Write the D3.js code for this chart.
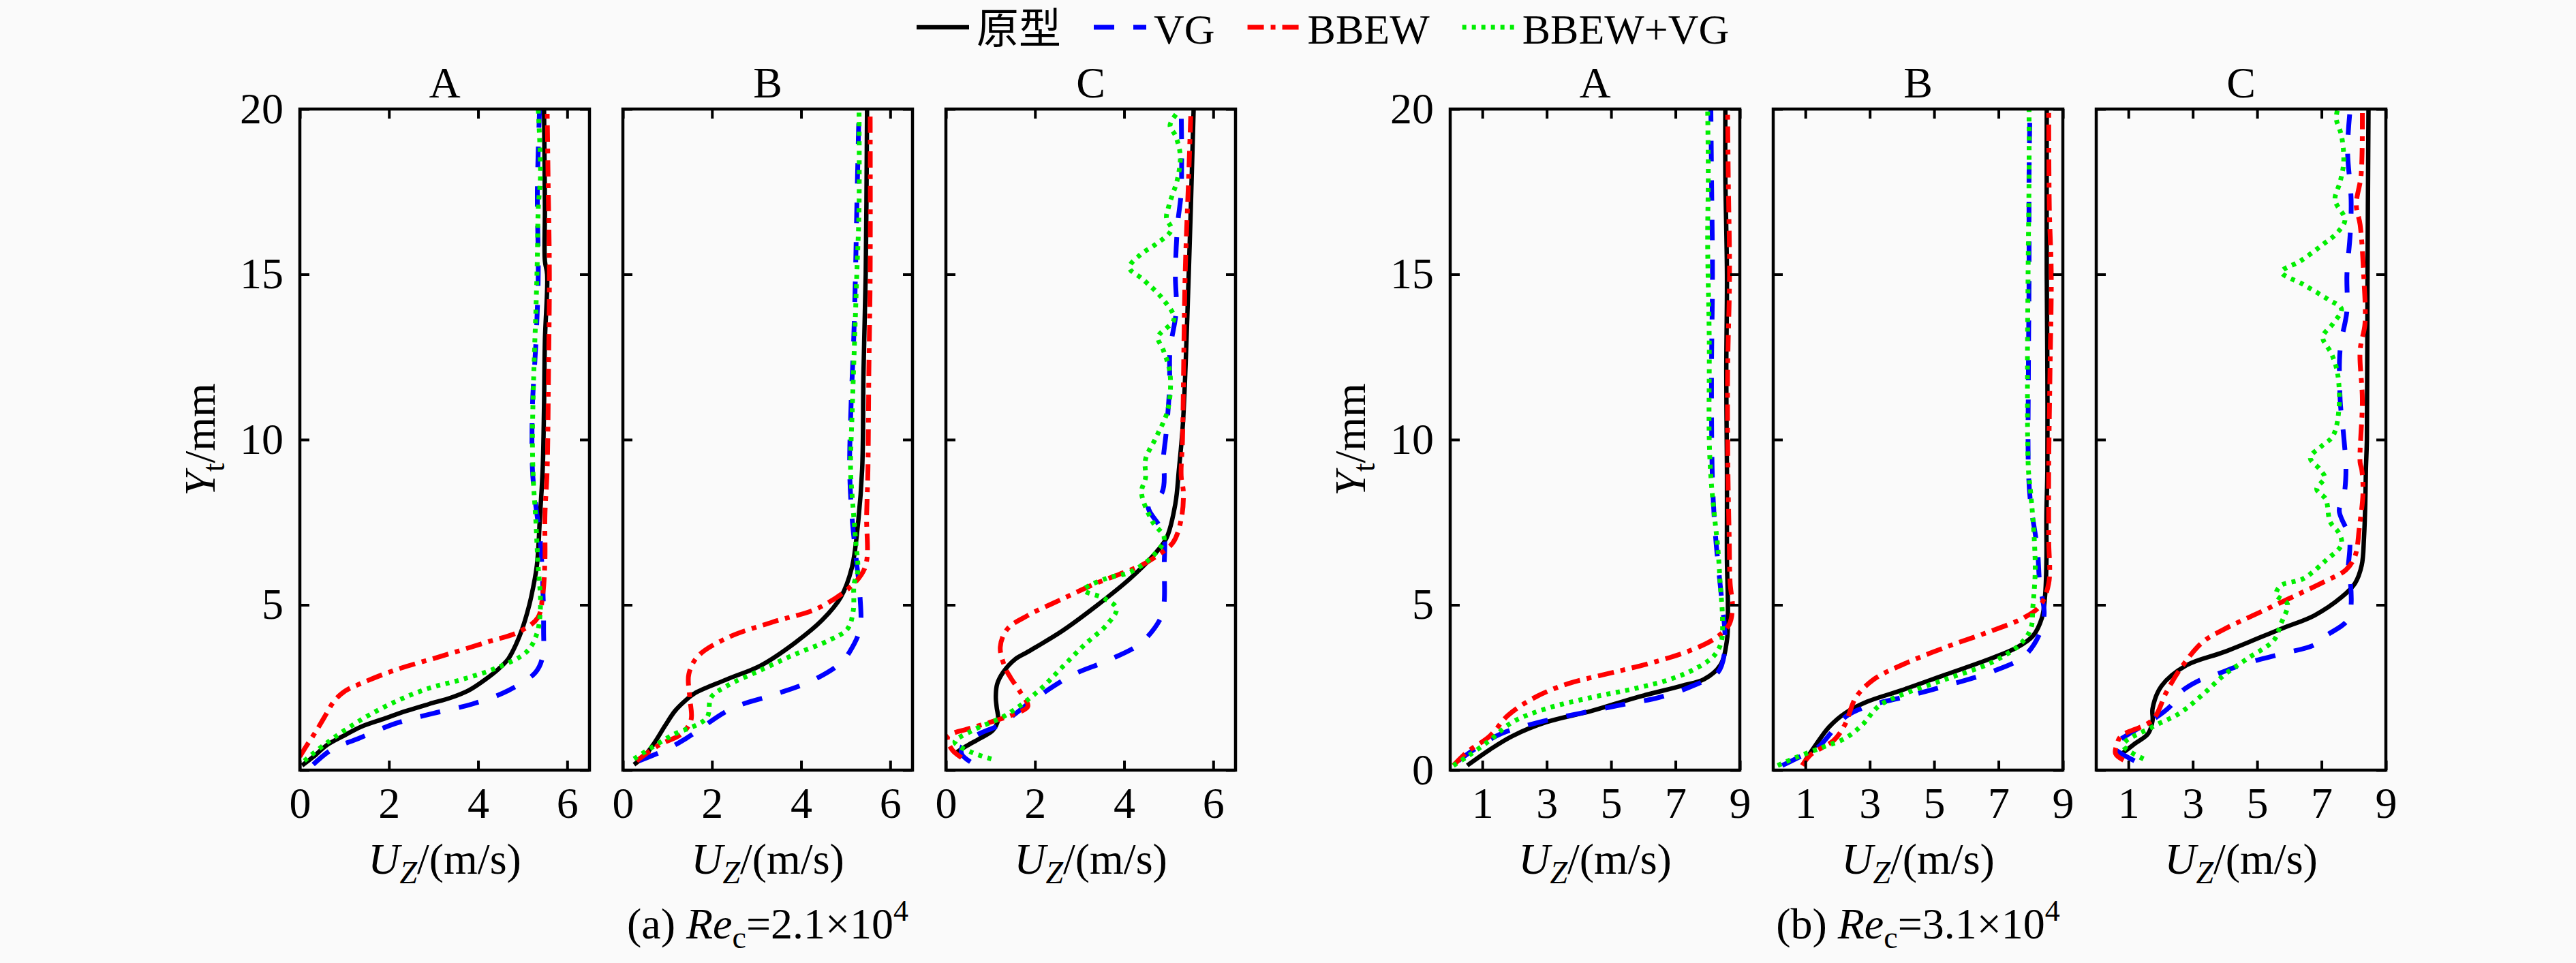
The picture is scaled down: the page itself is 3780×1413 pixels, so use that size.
<!DOCTYPE html>
<html>
<head>
<meta charset="utf-8">
<script src="https://cdn.jsdelivr.net/npm/d3@7"></script>
<style>
  body { margin: 0; background: #fafafa; }
  svg text { font-family: 'Liberation Serif', 'DejaVu Serif', serif; }
  svg text.cjk { font-family: 'Liberation Serif', 'Noto Sans CJK SC', serif; }
</style>
</head>
<body>
<div id="chart"></div>
<script>
// ---- data: [U_Z (m/s), Y_t (mm)] ----
// (a) Re_c = 2.1e4
const a_A_proto = [[0.05,0.14],[0.3,0.4],[0.61,0.76],[1.0,1.05],[1.37,1.31],[1.9,1.56],[2.39,1.79],[2.9,2.0],[3.41,2.2],[3.8,2.42],[4.17,2.75],[4.45,3.05],[4.68,3.37],[4.85,3.8],[4.99,4.27],[5.1,4.75],[5.19,5.23],[5.32,6.2],[5.39,7.7],[5.45,9.1],[5.48,11],[5.5,13],[5.55,15],[5.5,15.4],[5.5,17],[5.48,20]]
const a_A_vg = [[0.3,0.17],[0.71,0.62],[1.32,0.96],[2.14,1.41],[3.0,1.72],[3.87,2.0],[4.68,2.41],[5.29,2.96],[5.45,3.44],[5.47,4.27],[5.45,5.65],[5.39,7.02],[5.29,8.06],[5.22,9.1],[5.22,11],[5.3,13],[5.35,15],[5.33,17.5],[5.38,20]]
const a_A_bbew = [[0,0.41],[0.18,0.8],[0.36,1.17],[0.55,1.6],[0.76,2.07],[1.0,2.38],[1.37,2.62],[2.14,3.03],[3.16,3.44],[4.17,3.86],[4.94,4.2],[5.34,4.61],[5.45,5.3],[5.5,6.34],[5.5,7.7],[5.55,9.1],[5.58,12],[5.6,15],[5.57,18],[5.55,20]]
const a_A_both = [[0.1,0.28],[0.61,0.83],[1.37,1.52],[2.14,2.07],[2.9,2.48],[3.66,2.75],[4.43,3.1],[5.09,3.58],[5.32,4.13],[5.4,4.96],[5.34,6.34],[5.29,7.7],[5.24,8.75],[5.22,10],[5.25,12],[5.3,14],[5.33,15.5],[5.35,17],[5.4,18],[5.35,20]]

const a_B_proto = [[0.25,0.17],[0.5,0.45],[0.71,0.83],[0.95,1.35],[1.17,1.79],[1.4,2.1],[1.63,2.34],[2.34,2.75],[3.1,3.17],[3.87,3.86],[4.48,4.55],[4.89,5.23],[5.14,6.13],[5.27,7.37],[5.37,9.1],[5.4,12],[5.45,15],[5.48,20]]
const a_B_vg = [[0.36,0.28],[0.97,0.62],[1.42,0.96],[2.44,1.86],[3.36,2.27],[4.22,2.69],[4.89,3.24],[5.09,3.58],[5.32,4.27],[5.32,5.3],[5.24,6.34],[5.14,7.7],[5.09,9.1],[5.12,11],[5.18,13],[5.22,15],[5.25,17],[5.3,20]]
const a_B_bbew = [[0.31,0.28],[0.81,0.76],[1.32,1.1],[1.53,1.52],[1.5,2.2],[1.48,2.9],[1.68,3.44],[2.34,4.0],[3.36,4.48],[4.38,4.9],[5.19,5.65],[5.45,6.2],[5.47,7.7],[5.5,9.1],[5.52,12],[5.55,15],[5.55,20]]
const a_B_both = [[0.25,0.34],[1.07,1.03],[1.88,1.58],[1.98,2.2],[2.34,2.55],[3.1,3.03],[3.87,3.51],[4.63,3.93],[5.04,4.27],[5.17,4.82],[5.19,5.65],[5.27,6.0],[5.22,7.02],[5.14,8.4],[5.11,9.1],[5.15,11],[5.2,13],[5.25,15],[5.3,17],[5.3,20]]

const a_C_proto = [[0.2,0.5],[0.45,0.72],[0.75,0.95],[1.05,1.2],[1.17,1.52],[1.14,1.9],[1.12,2.2],[1.15,2.6],[1.28,2.95],[1.55,3.35],[1.84,3.58],[2.6,4.2],[3.37,4.96],[4.13,5.79],[4.64,6.47],[4.95,7.02],[5.15,8.06],[5.23,9.1],[5.32,10.5],[5.45,15],[5.56,20]]
const a_C_vg = [[0.55,0.25],[0.35,0.5],[0.4,0.8],[0.75,1.1],[1.22,1.38],[2.04,2.2],[2.86,2.89],[3.62,3.31],[4.39,3.86],[4.85,4.68],[4.9,5.1],[4.9,6.2],[4.9,7.02],[4.8,7.37],[4.54,7.99],[4.85,8.4],[4.9,8.95],[4.87,9.2],[4.95,10.3],[5.02,11.6],[5.03,12.7],[5.17,13.9],[5.15,15],[5.2,16.5],[5.28,17.5],[5.28,20]]
const a_C_bbew = [[0.35,0.38],[0.15,0.6],[0.05,0.85],[0.05,1.03],[0.5,1.25],[1.0,1.45],[1.58,1.72],[1.84,1.93],[1.68,2.34],[1.45,2.8],[1.33,3.1],[1.22,3.72],[1.38,4.27],[1.84,4.68],[2.6,5.17],[3.37,5.65],[3.88,5.92],[4.39,6.2],[4.8,6.54],[5.1,6.89],[5.28,7.58],[5.33,8.4],[5.28,8.9],[5.31,10],[5.37,15],[5.45,18],[5.5,20]]
const a_C_both = [[1.02,0.34],[0.56,0.55],[0.2,0.85],[0.6,1.2],[1.33,1.65],[2.09,2.41],[2.6,3.1],[3.11,3.79],[3.62,4.41],[3.83,4.89],[3.55,5.2],[3.1,5.45],[3.6,5.8],[4.13,5.99],[4.64,6.47],[4.9,7.02],[4.64,7.51],[4.39,8.4],[4.48,8.84],[4.48,9.4],[4.73,10.1],[4.98,10.9],[5.03,12.0],[4.87,12.74],[4.76,13.1],[5.12,13.65],[4.87,14.25],[4.42,14.85],[4.12,15.2],[4.37,15.6],[4.7,15.9],[5.06,16.35],[4.95,16.7],[5.01,17.1],[5.2,17.9],[5.26,18.6],[5.15,19.2],[5.03,19.5],[5.2,19.9]]

// (b) Re_c = 3.1e4
const b_A_proto = [[0.53,0.14],[1.23,0.62],[1.93,1.03],[2.98,1.45],[4.39,1.79],[5.79,2.2],[7.19,2.55],[7.89,2.75],[8.39,3.17],[8.6,3.93],[8.63,4.96],[8.6,6.34],[8.6,7.71],[8.6,9.1],[8.58,12],[8.6,15],[8.55,18],[8.55,20]]
const b_A_vg = [[0.25,0.28],[0.74,0.62],[1.58,1.1],[2.77,1.45],[4.04,1.72],[5.44,2.0],[6.49,2.2],[7.54,2.55],[8.32,2.96],[8.53,3.58],[8.53,4.27],[8.46,4.96],[8.35,5.99],[8.25,7.02],[8.18,8.06],[8.14,9.1],[8.12,12],[8.15,15],[8.12,18],[8.1,20]]
const b_A_bbew = [[0.1,0.14],[0.53,0.55],[1.23,1.03],[1.79,1.65],[2.63,2.2],[3.68,2.62],[5.09,2.96],[6.49,3.31],[7.54,3.65],[8.25,4.0],[8.67,4.41],[8.77,4.96],[8.7,5.65],[8.67,7.02],[8.63,9.1],[8.62,12],[8.68,15],[8.64,18],[8.62,20]]
const b_A_both = [[0.1,0.14],[0.53,0.41],[1.23,0.9],[1.93,1.45],[2.98,1.86],[4.39,2.2],[5.79,2.48],[6.84,2.75],[7.54,3.03],[8.18,3.44],[8.42,3.86],[8.46,4.61],[8.39,5.65],[8.32,6.68],[8.21,7.71],[8.11,8.75],[8.05,10],[8.05,13],[8.0,16],[8.02,18],[8.0,20]]

const b_B_proto = [[1.0,0.3],[1.32,0.76],[1.74,1.31],[2.23,1.72],[2.92,2.07],[3.97,2.41],[5.36,2.89],[6.75,3.37],[7.59,3.72],[8.07,4.06],[8.35,4.61],[8.45,5.3],[8.49,6.34],[8.49,7.71],[8.52,9.1],[8.52,12],[8.5,15],[8.5,20]]
const b_B_vg = [[0.28,0.14],[0.84,0.41],[1.39,0.69],[1.95,1.31],[2.3,1.65],[2.92,1.93],[4.31,2.27],[5.36,2.55],[6.75,2.96],[7.79,3.44],[8.28,4.13],[8.42,4.75],[8.28,5.65],[8.21,6.68],[8.0,8.06],[7.93,9.1],[7.93,12],[7.95,15],[7.95,18],[7.98,20]]
const b_B_bbew = [[0.9,0.14],[1.18,0.48],[1.88,0.9],[2.23,1.38],[2.57,2.2],[3.13,2.75],[3.97,3.17],[5.36,3.72],[6.75,4.2],[7.79,4.61],[8.28,4.96],[8.56,5.65],[8.56,7.02],[8.56,9.1],[8.6,12],[8.64,15],[8.58,17],[8.56,20]]
const b_B_both = [[0.14,0.14],[0.7,0.38],[1.53,0.69],[2.23,0.96],[2.78,1.38],[3.27,1.93],[3.97,2.27],[5.36,2.75],[6.75,3.24],[7.65,3.79],[8.0,4.27],[8.07,4.96],[8.14,5.99],[8.11,7.02],[8.0,8.4],[7.93,9.1],[7.9,12],[7.92,15],[7.95,18],[7.95,20]]

const b_C_proto = [[0.8,0.5],[1.2,0.8],[1.61,1.1],[1.75,1.5],[1.75,1.86],[2.03,2.55],[2.8,3.17],[3.99,3.58],[5.73,4.27],[6.78,4.68],[7.62,5.23],[8.04,5.65],[8.25,6.2],[8.32,7.02],[8.36,8.06],[8.38,9.1],[8.41,10],[8.43,15],[8.46,20]]
const b_C_vg = [[1.19,0.28],[0.7,0.55],[0.49,0.72],[0.91,1.03],[1.75,1.52],[2.3,1.93],[2.6,2.34],[3.15,2.69],[3.71,2.89],[4.69,3.24],[5.73,3.51],[6.78,3.79],[7.13,4.06],[7.76,4.48],[7.9,4.82],[7.9,5.65],[7.83,5.99],[7.87,7.02],[7.55,7.85],[7.69,8.26],[7.76,9.1],[7.69,10.1],[7.58,11.2],[7.58,12.74],[7.79,13.9],[7.79,15],[7.89,16.2],[7.92,17.25],[7.81,18.75],[7.89,20]]
const b_C_bbew = [[0.85,0.3],[0.6,0.5],[0.65,0.8],[0.77,1.03],[1.75,1.52],[2.17,2.34],[2.59,3.03],[3.29,3.86],[3.99,4.27],[5.03,4.75],[6.08,5.23],[7.13,5.72],[7.76,6.06],[8.04,6.47],[8.18,7.37],[8.29,8.4],[8.25,9.1],[8.2,9.3],[8.27,11.2],[8.2,12.7],[8.35,13.5],[8.31,15],[8.2,16.5],[8.08,17.1],[8.23,18],[8.27,20]]
const b_C_both = [[1.47,0.34],[0.84,0.76],[1.75,1.31],[2.59,1.72],[3.29,2.27],[3.99,2.89],[4.69,3.37],[5.52,3.93],[5.73,4.41],[5.94,5.03],[5.59,5.3],[5.73,5.58],[6.43,5.79],[7.13,6.34],[7.62,6.82],[7.55,7.16],[7.27,7.51],[7.13,8.2],[6.85,8.5],[7.1,8.85],[6.95,9.1],[6.65,9.45],[7.0,9.8],[7.35,10.1],[7.54,10.9],[7.5,12.0],[7.31,12.6],[7.04,13.1],[7.35,13.5],[7.62,13.95],[7.19,14.25],[6.42,14.7],[5.76,15.07],[6.34,15.4],[7.04,15.9],[7.5,16.27],[7.73,16.65],[7.42,17.25],[7.58,17.8],[7.69,18.4],[7.62,19.2],[7.46,19.7],[7.5,20]]

// ---- categories and tick labels ----
const seriesNames = ['原型', 'VG', 'BBEW', 'BBEW+VG']
const panelNames = ['A', 'B', 'C']
const groupTags = ['(a)', '(b)']
const groupRe = ['2.1', '3.1']
const xMaxes = [6.5, 9]
const xTickValues = [[0, 2, 4, 6], [1, 3, 5, 7, 9]]
const yTickValues = [0, 5, 10, 15, 20]
const yTickLabels = [[5, 10, 15, 20], [0, 5, 10, 15, 20]]
const curves = [
    [[a_A_proto, a_A_vg, a_A_bbew, a_A_both], [a_B_proto, a_B_vg, a_B_bbew, a_B_both], [a_C_proto, a_C_vg, a_C_bbew, a_C_both]],
    [[b_A_proto, b_A_vg, b_A_bbew, b_A_both], [b_B_proto, b_B_vg, b_B_bbew, b_B_both], [b_C_proto, b_C_vg, b_C_bbew, b_C_both]]
]

// ---- styles ----
const seriesStyle = [
    { color: '#000000', width: 6.5, dash: null },
    { color: '#0000ff', width: 7, dash: '30,28' },
    { color: '#ff0000', width: 7, dash: '24,10,7,10' },
    { color: '#00ee00', width: 7, dash: '6,8' }
]

// ---- layout ----
const W = 3780, H = 1413
const groupLeft = [440, 2128]
const panelStep = 474, panelW = 425
const plotTop = 160, plotBottom = 1130
const fontSize = 64

const svg = d3.select('#chart')
    .append('svg')
    .attr('width', W)
    .attr('height', H)
    .style('background', '#fafafa')

const y = d3.scaleLinear().domain([0, 20]).range([plotBottom, plotTop])

groupLeft.forEach(function (gLeft, g) {
    panelNames.forEach(function (pName, p) {
        const left = gLeft + p * panelStep
        const x = d3.scaleLinear().domain([0, xMaxes[g]]).range([left, left + panelW])
        const panel = svg.append('g')

        const clipId = 'clip-' + g + '-' + p
        svg.append('clipPath').attr('id', clipId)
            .append('rect')
            .attr('x', left).attr('y', plotTop)
            .attr('width', panelW).attr('height', plotBottom - plotTop)

        // curves
        const line = d3.line()
            .x(d => x(d[0]))
            .y(d => y(d[1]))
            .curve(d3.curveCatmullRom.alpha(0.5))

        const lines = panel.append('g').attr('clip-path', 'url(#' + clipId + ')')
        curves[g][p].forEach(function (data, s) {
            lines.append('path')
                .datum(data)
                .attr('d', line)
                .attr('fill', 'none')
                .attr('stroke', seriesStyle[s].color)
                .attr('stroke-width', seriesStyle[s].width)
                .attr('stroke-dasharray', seriesStyle[s].dash)
                .attr('stroke-linejoin', 'round')
        })

        // axes, ticks pointing inward
        const bottomAxis = panel.append('g')
            .attr('transform', 'translate(0,' + plotBottom + ')')
            .call(d3.axisBottom(x).tickValues(xTickValues[g]).tickSize(-14).tickPadding(25).tickFormat(d3.format('d')))
        const topAxis = panel.append('g')
            .attr('transform', 'translate(0,' + plotTop + ')')
            .call(d3.axisTop(x).tickValues(xTickValues[g]).tickSize(-14).tickFormat(''))
        const leftAxis = panel.append('g')
            .attr('transform', 'translate(' + left + ',0)')
            .call(d3.axisLeft(y).tickValues(yTickValues).tickSize(-14).tickPadding(24)
                .tickFormat(d => (p === 0 && yTickLabels[g].includes(d)) ? d : ''))
        const rightAxis = panel.append('g')
            .attr('transform', 'translate(' + (left + panelW) + ',0)')
            .call(d3.axisRight(y).tickValues(yTickValues).tickSize(-14).tickFormat(''))

        ;[bottomAxis, topAxis, leftAxis, rightAxis].forEach(function (ax) {
            ax.attr('font-family', null).attr('font-size', null)
            ax.select('.domain').remove()
            ax.selectAll('.tick line').attr('stroke', '#000').attr('stroke-width', 4)
            ax.selectAll('.tick text')
                .attr('fill', '#000')
                .style('font-size', fontSize + 'px')
        })

        // frame
        panel.append('rect')
            .attr('x', left).attr('y', plotTop)
            .attr('width', panelW).attr('height', plotBottom - plotTop)
            .attr('fill', 'none')
            .attr('stroke', '#000')
            .attr('stroke-width', 4.5)

        // panel title
        panel.append('text')
            .attr('x', left + panelW / 2)
            .attr('y', 143)
            .attr('text-anchor', 'middle')
            .style('font-size', fontSize + 'px')
            .text(pName)

        // x label U_Z/(m/s)
        const xl = panel.append('text')
            .attr('x', left + panelW / 2)
            .attr('y', 1282)
            .attr('text-anchor', 'middle')
            .style('font-size', fontSize + 'px')
        xl.append('tspan').style('font-style', 'italic').text('U')
        xl.append('tspan').style('font-style', 'italic').style('font-size', '46px').attr('dy', 14).text('Z')
        xl.append('tspan').attr('dy', -14).text('/(m/s)')
    })

    // y label Y_t/mm
    const yl = svg.append('text')
        .attr('transform', 'translate(' + (gLeft - 125) + ',' + ((plotTop + plotBottom) / 2) + ') rotate(-90)')
        .attr('text-anchor', 'middle')
        .style('font-size', fontSize + 'px')
    yl.append('tspan').style('font-style', 'italic').text('Y')
    yl.append('tspan').style('font-size', '46px').attr('dy', 14).text('t')
    yl.append('tspan').attr('dy', -14).text('/mm')

    // caption under the middle panel
    const cap = svg.append('text')
        .attr('x', gLeft + panelStep + panelW / 2)
        .attr('y', 1377)
        .attr('text-anchor', 'middle')
        .style('font-size', fontSize + 'px')
    cap.append('tspan').text(groupTags[g] + ' ')
    cap.append('tspan').style('font-style', 'italic').text('Re')
    cap.append('tspan').style('font-size', '46px').attr('dy', 14).text('c')
    cap.append('tspan').attr('dy', -14).text('=' + groupRe[g] + '×10')
    cap.append('tspan').style('font-size', '44px').attr('dy', -26).text('4')
})

// legend across the top
const legend = svg.append('g')
let lx = 1345
seriesNames.forEach(function (name, s) {
    legend.append('line')
        .attr('x1', lx).attr('x2', lx + 77)
        .attr('y1', 40).attr('y2', 40)
        .attr('stroke', seriesStyle[s].color)
        .attr('stroke-width', seriesStyle[s].width)
        .attr('stroke-dasharray', seriesStyle[s].dash)
    const t = legend.append('text')
        .attr('class', 'cjk')
        .attr('x', lx + 88)
        .attr('y', 64)
        .style('font-size', '62px')
        .text(name)
    lx = lx + 88 + t.node().getComputedTextLength() + 48
})
</script>
</body>
</html>
